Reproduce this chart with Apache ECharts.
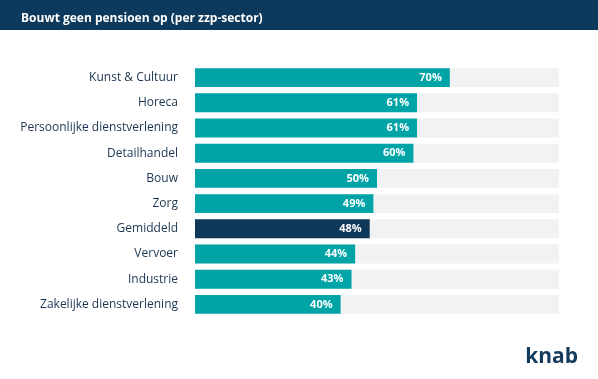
<!DOCTYPE html>
<html><head><meta charset="utf-8">
<script src="https://cdn.jsdelivr.net/npm/echarts@6/dist/echarts.min.js"></script>
<style>html,body{margin:0;padding:0;background:#fff}#c{width:598px;height:379px}</style>
</head><body><div id="c"></div>
<script>
const categories = ["Kunst & Cultuur","Horeca","Persoonlijke dienstverlening","Detailhandel","Bouw","Zorg","Gemiddeld","Vervoer","Industrie","Zakelijke dienstverlening"];
const values = [70,61,61,60,50,49,48,44,43,40];
const highlight = "Gemiddeld";
const title = "Bouwt geen pensioen op (per zzp-sector)";
const logo = "knab";

const teal = "#00a3a6", navy = "#0f3859";
const chart = echarts.init(document.getElementById('c'));
chart.setOption({
  animation:false,
  backgroundColor:'#fff',
  title:{text:title,left:16,top:8,textStyle:{color:'#fff',fontSize:12,fontWeight:'bold',fontFamily:'Open Sans'}},
  graphic:[
    {type:'rect',left:0,top:0,z:-1,shape:{width:598,height:30},style:{fill:'#0d3a5c'}},
    {type:'text',right:20,top:347,style:{text:logo,fill:'#143a5c',font:'bold 21px Open Sans'}}
  ],
  grid:{left:195,right:39,top:65,bottom:62},
  xAxis:{type:'value',min:0,max:100,show:false},
  yAxis:{type:'category',data:categories,inverse:true,axisLine:{show:false},axisTick:{show:false},
    axisLabel:{margin:17,color:'#1a3552',fontSize:12,fontFamily:'Open Sans'}},
  series:[{type:'bar',barWidth:'75%',
    showBackground:true,backgroundStyle:{color:'#f1f2f4'},
    data:values.map((v,i)=>categories[i]===highlight?{value:v,itemStyle:{color:navy}}:v),
    itemStyle:{color:teal},
    label:{show:true,position:'insideRight',distance:8,formatter:'{c}%',color:'#fff',fontWeight:'bold',fontSize:11,fontFamily:'Open Sans'}
  }]
});
</script></body></html>
